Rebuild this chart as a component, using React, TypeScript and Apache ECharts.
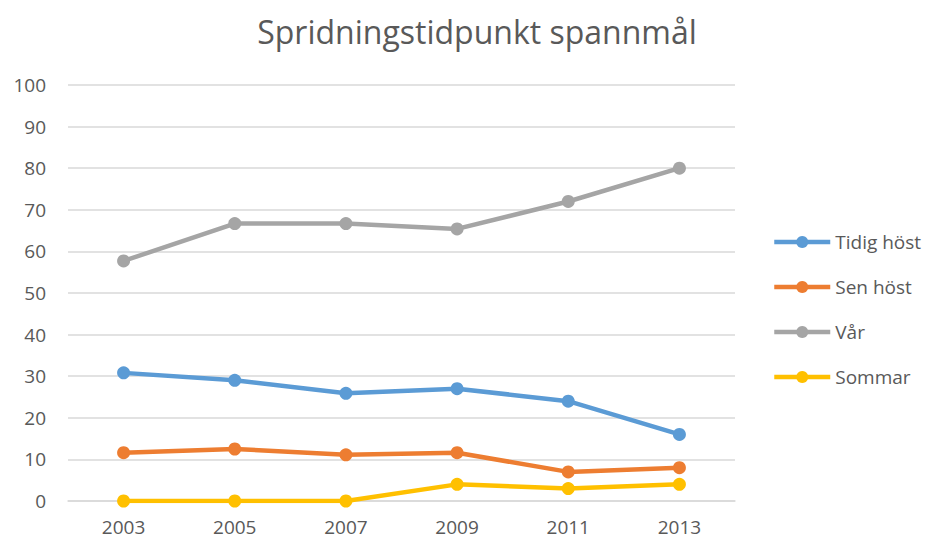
import React, { useEffect, useRef } from "react";
import * as echarts from "echarts";

const categories = ["2003", "2005", "2007", "2009", "2011", "2013"];
const tidigHost = [30.8, 29, 25.9, 27, 24, 16];
const senHost = [11.6, 12.5, 11.1, 11.6, 7, 8];
const var_ = [57.7, 66.7, 66.7, 65.4, 72, 80];
const sommar = [0, 0, 0, 4, 3, 4];
const seriesNames = ["Tidig höst", "Sen höst", "Vår", "Sommar"];
const colors = ["#5B9BD5", "#ED7D31", "#A5A5A5", "#FFC000"];

export default function App() {
  const ref = useRef<HTMLDivElement>(null);
  useEffect(() => {
    const chart = echarts.init(ref.current!, null, { renderer: "svg" });
    const data = [tidigHost, senHost, var_, sommar];
    chart.setOption({
      animation: false,
      title: {
        text: "Spridningstidpunkt spannmål",
        left: 472,
        textAlign: "center",
        top: 10,
        textStyle: { fontFamily: "Open Sans", fontSize: 32, fontWeight: "normal", color: "#595959" },
      },
      legend: {
        orient: "vertical",
        left: 767,
        top: 227,
        itemGap: 25,
        itemWidth: 56,
        itemHeight: 15,
        data: seriesNames,
        lineStyle: { width: 4.5 },
        textStyle: { fontFamily: "Open Sans", fontSize: 19, lineHeight: 20, color: "#595959" },
      },
      grid: { left: 68, right: 194, top: 85, bottom: 42 },
      xAxis: {
        type: "category",
        data: categories,
        axisLine: { lineStyle: { color: "#D9D9D9", width: 1.5 } },
        axisTick: { show: false },
        axisLabel: { fontFamily: "Open Sans", fontSize: 19, color: "#595959", margin: 16 },
      },
      yAxis: {
        type: "value",
        min: 0,
        max: 100,
        interval: 10,
        axisLine: { show: false },
        axisTick: { show: false },
        splitLine: { lineStyle: { color: "#D9D9D9", width: 1.5 } },
        axisLabel: { fontFamily: "Open Sans", fontSize: 19, color: "#595959", margin: 22 },
      },
      series: seriesNames.map((name, i) => ({
        name,
        type: "line",
        data: data[i],
        symbol: "circle",
        symbolSize: 13,
        lineStyle: { width: 4.5, color: colors[i] },
        itemStyle: { color: colors[i] },
      })),
    });
    return () => chart.dispose();
  }, []);
  return <div ref={ref} style={{ width: 929, height: 543, position: "absolute", left: 0, top: 0, background: "#fff" }} />;
}
